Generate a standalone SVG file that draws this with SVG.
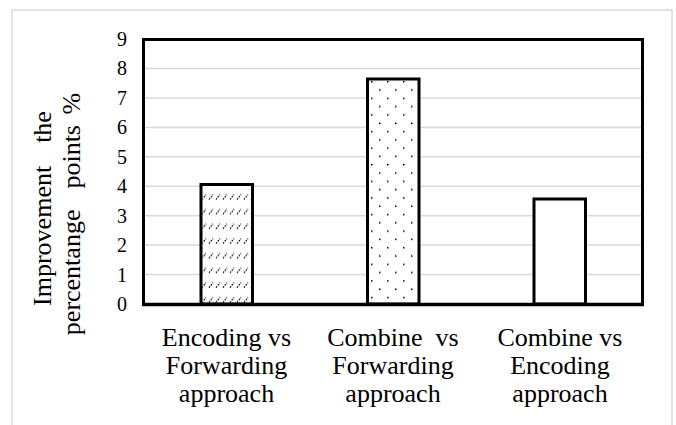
<svg xmlns="http://www.w3.org/2000/svg" width="676" height="425" viewBox="0 0 676 425">
  <style>
    text { font-family: "Liberation Serif", Tinos, "Times New Roman", serif; fill: #000; }
    .tick { font-size: 20px; text-anchor: end; }
    .cat { font-size: 26px; text-anchor: middle; }
    .ttl { font-size: 26px; text-anchor: middle; }
    .grid { stroke: #d9d9d9; stroke-width: 1.5; }
    .bar { stroke: #000; stroke-width: 3; }
  </style>
  <defs>
    <pattern id="hatch" patternUnits="userSpaceOnUse" x="201" y="189" width="7" height="14.7">
      <line x1="1" y1="10.5" x2="5" y2="5.5" stroke="#000" stroke-width="1.2" stroke-dasharray="1.7 1.1"/>
    </pattern>
    <pattern id="dots" patternUnits="userSpaceOnUse" x="371" y="81" width="16" height="16.6">
      <rect x="0" y="0" width="1.5" height="1.5" fill="#000"/>
      <rect x="8" y="8.3" width="1.5" height="1.5" fill="#000"/>
    </pattern>
  </defs>
  <rect x="0" y="0" width="676" height="425" fill="#fff"/>
  <rect id="chart-border" x="12" y="10" width="660" height="430" fill="none" stroke="#d9d9d9" stroke-width="1.5"/>
  <g id="gridlines">
    <line class="grid" x1="145" y1="274.6" x2="641" y2="274.6"/>
    <line class="grid" x1="145" y1="245.1" x2="641" y2="245.1"/>
    <line class="grid" x1="145" y1="215.7" x2="641" y2="215.7"/>
    <line class="grid" x1="145" y1="186.2" x2="641" y2="186.2"/>
    <line class="grid" x1="145" y1="156.8" x2="641" y2="156.8"/>
    <line class="grid" x1="145" y1="127.4" x2="641" y2="127.4"/>
    <line class="grid" x1="145" y1="97.9" x2="641" y2="97.9"/>
    <line class="grid" x1="145" y1="68.5" x2="641" y2="68.5"/>
  </g>
  <g id="bar-encoding-vs-forwarding">
    <rect class="bar" x="201" y="184.5" width="51.5" height="119.5" fill="#fff"/>
    <rect x="202.5" y="186" width="48.5" height="117" fill="url(#hatch)"/>
  </g>
  <g id="bar-combine-vs-forwarding">
    <rect class="bar" x="367.5" y="79" width="51.5" height="225" fill="#fff"/>
    <rect x="369" y="80.5" width="48.5" height="222" fill="url(#dots)"/>
  </g>
  <g id="bar-combine-vs-encoding">
    <rect class="bar" x="534" y="199" width="51.5" height="105" fill="#fff"/>
  </g>
  <g id="plot-frame" fill="none" stroke="#000">
    <path d="M143.5 304 V39.5 H642.5 V304" stroke-width="3"/>
    <line x1="142" y1="304.5" x2="644" y2="304.5" stroke-width="3.5"/>
  </g>
  <g id="y-ticks">
    <text class="tick" x="127" y="311">0</text>
    <text class="tick" x="127" y="281.5">1</text>
    <text class="tick" x="127" y="252">2</text>
    <text class="tick" x="127" y="222.6">3</text>
    <text class="tick" x="127" y="193.1">4</text>
    <text class="tick" x="127" y="163.7">5</text>
    <text class="tick" x="127" y="134.3">6</text>
    <text class="tick" x="127" y="104.8">7</text>
    <text class="tick" x="127" y="75.4">8</text>
    <text class="tick" x="127" y="46">9</text>
  </g>
  <g id="y-title">
    <text class="ttl" xml:space="preserve" word-spacing="5" transform="translate(51,208.5) rotate(-90)">Improvement  the</text>
    <text class="ttl" xml:space="preserve" word-spacing="4" transform="translate(80,214) rotate(-90)">percentange  points %</text>
  </g>
  <g id="x-labels">
    <text class="cat" x="226.5" y="346">Encoding vs</text>
    <text class="cat" x="226.5" y="374">Forwarding</text>
    <text class="cat" x="226.5" y="402">approach</text>
    <text class="cat" x="393" y="346" xml:space="preserve">Combine  vs</text>
    <text class="cat" x="393" y="374">Forwarding</text>
    <text class="cat" x="393" y="402">approach</text>
    <text class="cat" x="560" y="346">Combine vs</text>
    <text class="cat" x="560" y="374">Encoding</text>
    <text class="cat" x="560" y="402">approach</text>
  </g>
</svg>
